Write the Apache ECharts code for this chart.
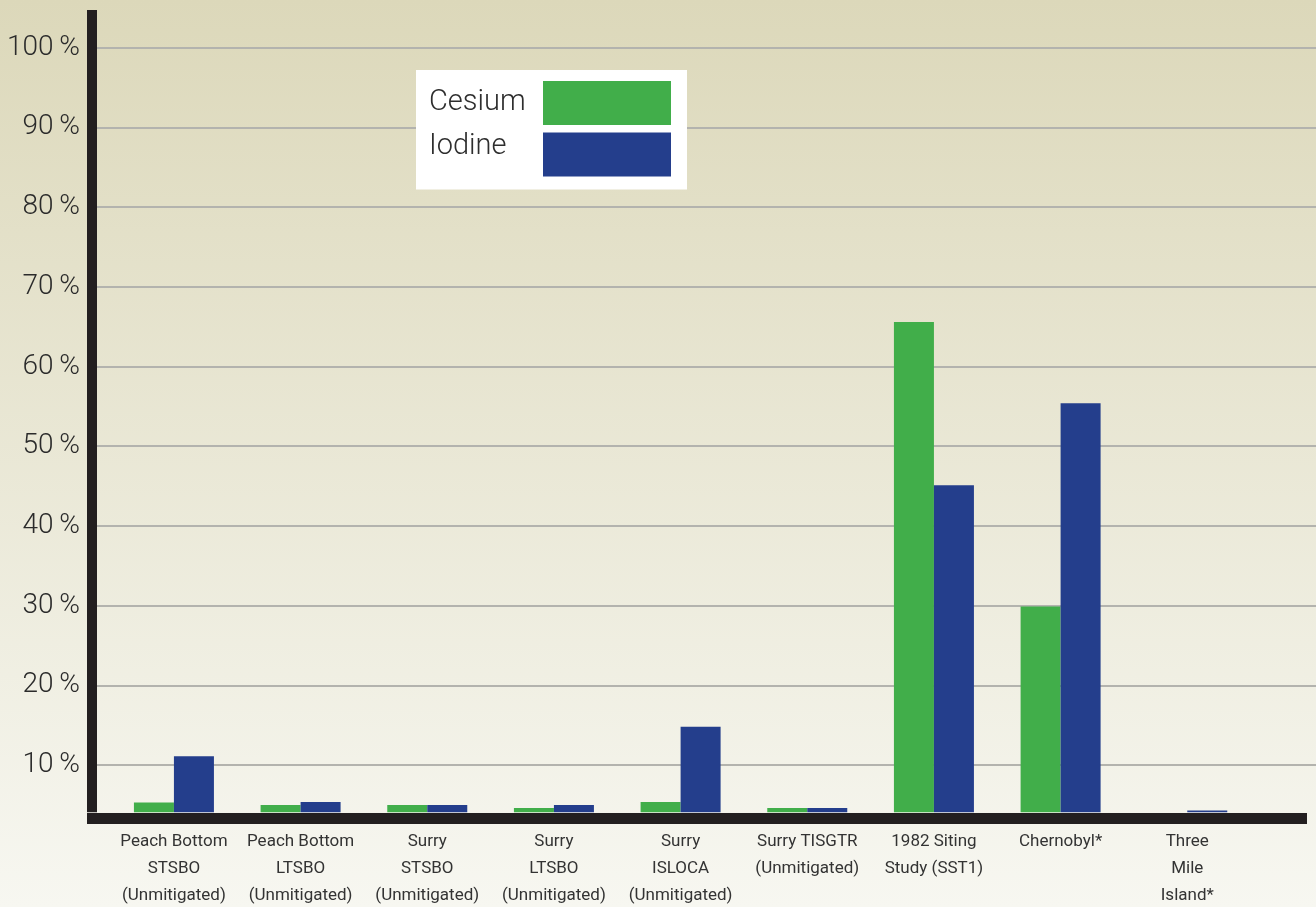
<!DOCTYPE html>
<html>
<head>
<meta charset="utf-8">
<script src="https://cdn.jsdelivr.net/npm/echarts@6/dist/echarts.min.js"></script>
<style>
html,body{margin:0;padding:0;}
#main{width:1316px;height:907px;}
</style>
</head>
<body>
<div id="main"></div>
<script>
var categories = [
  'Peach Bottom\nSTSBO\n(Unmitigated)',
  'Peach Bottom\nLTSBO\n(Unmitigated)',
  'Surry\nSTSBO\n(Unmitigated)',
  'Surry\nLTSBO\n(Unmitigated)',
  'Surry\nISLOCA\n(Unmitigated)',
  'Surry TISGTR\n(Unmitigated)',
  '1982 Siting\nStudy (SST1)',
  'Chernobyl*',
  'Three\nMile\nIsland*'
];
var cesium = [5.3, 5.0, 5.0, 4.6, 5.35, 4.6, 65.6, 29.9, 0];
var iodine = [11.1, 5.35, 5.0, 5.0, 14.8, 4.6, 45.1, 55.4, 4.3];
var yTicks = [10, 20, 30, 40, 50, 60, 70, 80, 90, 100];
var yMin = 4.07;
var yMax = 104.73;

var chart = echarts.init(document.getElementById('main'));
var gridTop = 10, gridBottom = 94.7;
var legendText = {width: 109, align: 'left', fontSize: 29, fontFamily: 'Roboto', fontWeight: 300, color: '#2e2e2e'};
chart.setOption({
  animation: false,
  backgroundColor: {
    type: 'linear', x: 0, y: 0, x2: 0, y2: 1,
    colorStops: [{offset: 0, color: '#dcd8ba'}, {offset: 1, color: '#f7f7f1'}]
  },
  legend: {
    orient: 'vertical',
    left: 416, top: 70,
    padding: [11, 16, 13, 13],
    backgroundColor: '#ffffff',
    itemWidth: 128, itemHeight: 44, itemGap: 7,
    align: 'right',
    icon: 'rect',
    formatter: '{a|{name}}',
    textStyle: {rich: {a: legendText}},
    data: [
      {name: 'Cesium'},
      {name: 'Iodine', textStyle: {rich: {a: Object.assign({}, legendText, {padding: [0, 0, 16, 0]})}}}
    ]
  },
  grid: [
    {left: 110.6, right: 65.4, top: gridTop, bottom: gridBottom, outerBoundsMode: 'none', containLabel: false},
    {left: 97, right: 0, top: gridTop, bottom: gridBottom, outerBoundsMode: 'none', containLabel: false},
    {left: 87, right: 9, top: gridTop, bottom: gridBottom, outerBoundsMode: 'none', containLabel: false}
  ],
  xAxis: [
    {
      gridIndex: 0, type: 'category', data: categories,
      axisLine: {show: false}, axisTick: {show: false},
      axisLabel: {
        interval: 0, margin: 16,
        fontFamily: 'Roboto', fontSize: 17, lineHeight: 27, color: '#333333'
      }
    },
    {gridIndex: 1, type: 'category', data: categories, show: false},
    {
      gridIndex: 2, type: 'category', data: categories,
      offset: 5.5,
      axisLine: {show: true, lineStyle: {color: '#231f20', width: 11, cap: 'butt'}},
      axisTick: {show: false}, axisLabel: {show: false}
    }
  ],
  yAxis: [
    {gridIndex: 0, type: 'value', min: yMin, max: yMax, show: false, splitLine: {show: false}},
    {
      gridIndex: 1, type: 'value', min: yMin, max: yMax,
      offset: 5,
      axisLine: {show: true, lineStyle: {color: '#231f20', width: 10, cap: 'butt'}},
      axisTick: {show: false, customValues: yTicks},
      axisLabel: {
        customValues: yTicks, margin: 12,
        formatter: '{value}\u2009%',
        fontFamily: 'Roboto', fontWeight: 300, fontSize: 28, color: '#2b2b2b'
      },
      splitLine: {show: true, lineStyle: {color: '#b3b3ae', width: 2}}
    },
    {gridIndex: 2, type: 'value', min: yMin, max: yMax, show: false, splitLine: {show: false}}
  ],
  series: [
    {
      name: 'Cesium', type: 'bar', xAxisIndex: 0, yAxisIndex: 0,
      data: cesium, barWidth: 40, barGap: '0%',
      itemStyle: {color: '#41ae4a'}
    },
    {
      name: 'Iodine', type: 'bar', xAxisIndex: 0, yAxisIndex: 0,
      data: iodine, barWidth: 40, barGap: '0%',
      itemStyle: {color: '#243e8c'}
    }
  ]
});
</script>
</body>
</html>
